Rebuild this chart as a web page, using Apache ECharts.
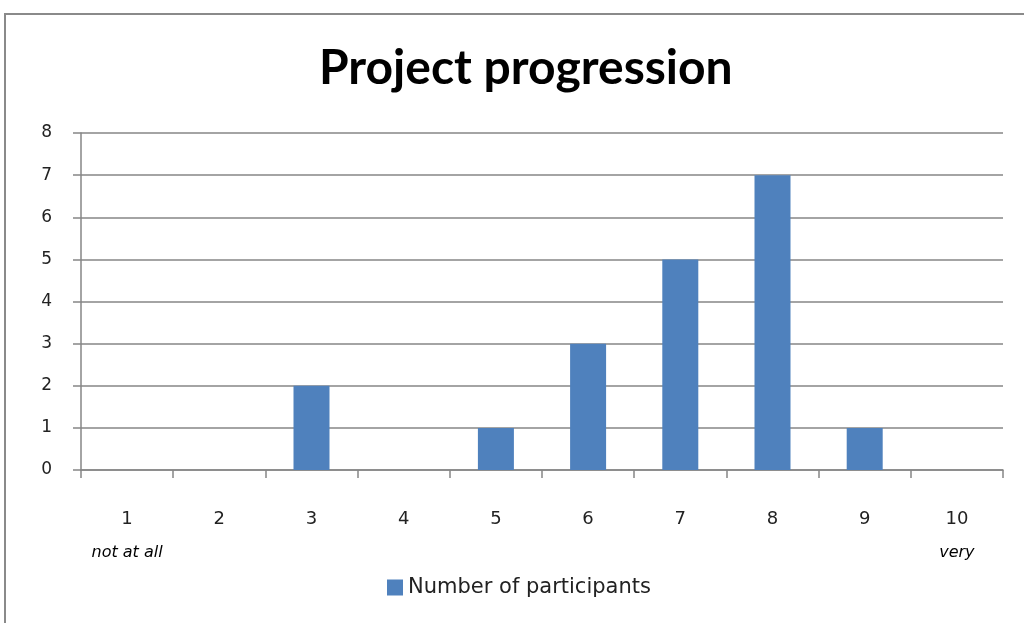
<!DOCTYPE html>
<html>
<head>
<meta charset="utf-8">
<script src="https://cdn.jsdelivr.net/npm/echarts@6/dist/echarts.min.js"></script>
<style>
  html, body { margin: 0; padding: 0; background: #fff; }
  #chart { width: 1024px; height: 623px; }
</style>
</head>
<body>
<div id="chart"></div>
<script>
// scale points 1..10, with the end labels under 1 and 10
const categories = ['1', '2', '3', '4', '5', '6', '7', '8', '9', '10']
const endNotes = { '1': 'not at all', '10': 'very' }
const participants = [0, 0, 2, 0, 1, 3, 5, 7, 1, 0]
const yTicks = [0, 8, 1] // min, max, step

const myChart = echarts.init(document.getElementById('chart'))

const axisGray = '#868686'
const option = {
  animation: false,
  title: {
    text: 'Project progression',
    left: 314,
    top: 40,
    textStyle: {
      fontFamily: 'Lato',
      fontWeight: 'bold',
      fontSize: 48,
      color: '#000'
    }
  },
  graphic: [
    {
      type: 'rect',
      shape: { x: 5, y: 14, width: 1040, height: 640 },
      style: { fill: 'none', stroke: '#8a8a8a', lineWidth: 2 },
      silent: true
    }
  ],
  legend: {
    bottom: 20,
    left: 382,
    icon: 'rect',
    itemWidth: 16,
    itemHeight: 16,
    itemGap: 5,
    textStyle: { fontFamily: 'DejaVu Sans', fontSize: 21, color: '#222' },
    data: ['Number of participants']
  },
  grid: {
    left: 81,
    right: 21,
    top: 133,
    bottom: 153
  },
  xAxis: {
    type: 'category',
    data: categories,
    axisLine: { lineStyle: { color: axisGray, width: 1.5 } },
    axisTick: { show: true, length: 8, lineStyle: { color: axisGray, width: 1.5 } },
    axisLabel: {
      margin: 32,
      formatter: (v) => endNotes[v] ? '{n|' + v + '}\n{s|' + endNotes[v] + '}' : '{n|' + v + '}',
      rich: {
        n: { fontFamily: 'DejaVu Sans', fontSize: 18, color: '#222', lineHeight: 34 },
        s: { fontFamily: 'DejaVu Sans', fontStyle: 'italic', fontSize: 16, color: '#000', lineHeight: 34 }
      },
      verticalAlign: 'top'
    }
  },
  yAxis: {
    type: 'value',
    min: yTicks[0],
    max: yTicks[1],
    interval: yTicks[2],
    axisLine: { show: true, lineStyle: { color: axisGray, width: 1.5 } },
    axisTick: { show: true, length: 8, lineStyle: { color: axisGray, width: 1.5 } },
    splitLine: { lineStyle: { color: axisGray, width: 1.5 } },
    axisLabel: {
      margin: 29,
      fontFamily: 'DejaVu Sans',
      fontSize: 17,
      color: '#222'
    }
  },
  series: [
    {
      name: 'Number of participants',
      type: 'bar',
      data: participants,
      barWidth: 36,
      itemStyle: { color: '#4F81BD' }
    }
  ]
}
myChart.setOption(option)
</script>
</body>
</html>
